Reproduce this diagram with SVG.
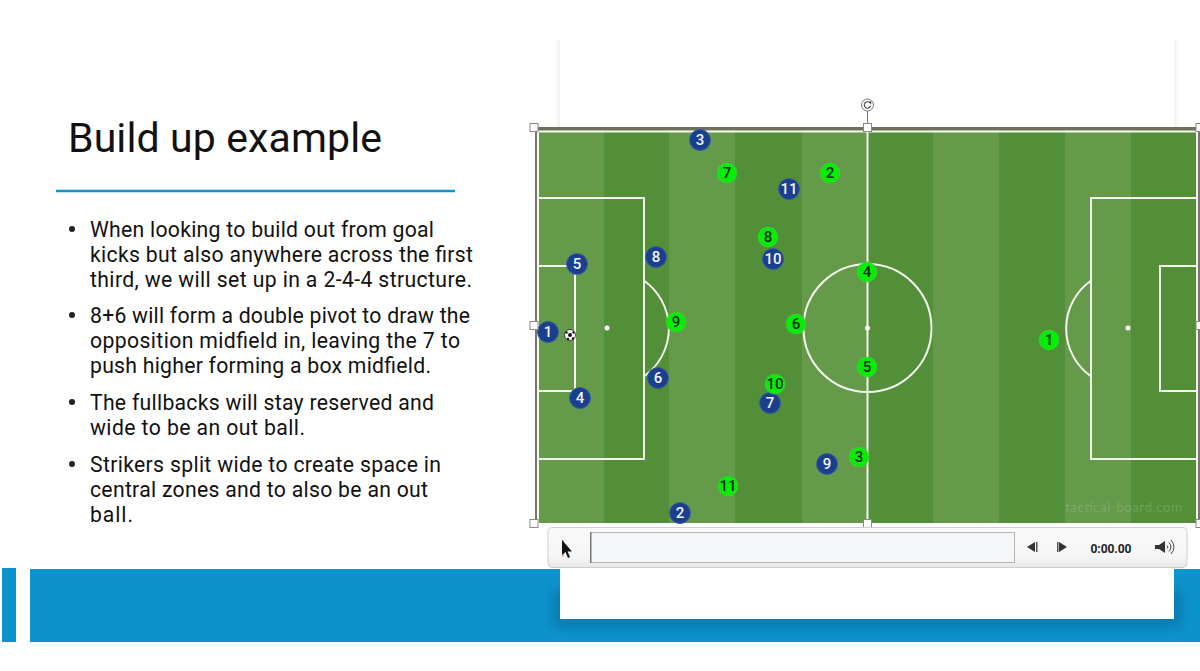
<svg xmlns="http://www.w3.org/2000/svg" width="1200" height="671" viewBox="0 0 1200 671">
<defs>
<style>
.t{font-family:"Roboto","Liberation Sans",sans-serif;fill:#111}
.b{font-size:21.2px}
.l{fill:none;stroke:#f4f8ef;stroke-width:2}
.lt{fill:#659a4a}.dk{fill:#528f38}
.h{fill:#fff;stroke:#8a8a80;stroke-width:1}
.n circle{fill:#1b3f8f;stroke:#3a5c9a;stroke-width:1}
.n text{fill:#f2f5fb}
.g circle{fill:#00f000;stroke:#2ed82a;stroke-opacity:.75;stroke-width:2}
.g text{fill:#07260a}
.p text{font-family:"Roboto","Liberation Sans",sans-serif;font-size:15px;font-weight:500;text-anchor:middle}
.c{fill:#222}
</style>
<filter id="s" x="-5%" y="-100%" width="110%" height="300%"><feGaussianBlur stdDeviation="6"/></filter>
<linearGradient id="bar" x1="0" y1="0" x2="0" y2="1"><stop offset="0" stop-color="#fafafb"/><stop offset="0.7" stop-color="#f6f6f7"/><stop offset="1" stop-color="#e8e8ea"/></linearGradient>
<linearGradient id="sl" x1="1" y1="0" x2="0" y2="0"><stop offset="0" stop-color="#f0f0f0"/><stop offset="1" stop-color="#fff"/></linearGradient>
<linearGradient id="sr" x1="0" y1="0" x2="1" y2="0"><stop offset="0" stop-color="#f0f0f0"/><stop offset="1" stop-color="#fff"/></linearGradient>
</defs>
<rect width="1200" height="671" fill="#fff"/>
<rect x="2" y="568" width="14" height="74" fill="#0d93cc"/>
<rect x="30" y="569" width="1170" height="73" fill="#0d93cc"/>
<rect x="552" y="590" width="630" height="38" fill="#064a6c" opacity="0.3" filter="url(#s)"/>
<rect x="560" y="40" width="614" height="579" fill="#fff"/>
<rect x="555" y="40" width="5" height="88" fill="url(#sl)"/>
<rect x="1174" y="40" width="5" height="88" fill="url(#sr)"/>
<line x1="56" y1="191" x2="455" y2="191" stroke="#0d93cc" stroke-width="2.5"/>
<text class="t" x="68" y="152" font-size="41" textLength="314">Build up example</text>
<g id="bullets">
<g class="t b">
<circle class="c" cx="72" cy="229" r="3"/>
<text x="90" y="237" textLength="344">When looking to build out from goal</text>
<text x="90" y="262" textLength="383">kicks but also anywhere across the first</text>
<text x="90" y="287" textLength="382">third, we will set up in a 2-4-4 structure.</text>
<circle class="c" cx="72" cy="315" r="3"/>
<text x="90" y="323" textLength="380">8+6 will form a double pivot to draw the</text>
<text x="90" y="348" textLength="370">opposition midfield in, leaving the 7 to</text>
<text x="90" y="373" textLength="341">push higher forming a box midfield.</text>
<circle class="c" cx="72" cy="402" r="3"/>
<text x="90" y="410" textLength="344">The fullbacks will stay reserved and</text>
<text x="90" y="435" textLength="215">wide to be an out ball.</text>
<circle class="c" cx="72" cy="464" r="3"/>
<text x="90" y="472" textLength="351">Strikers split wide to create space in</text>
<text x="90" y="497" textLength="338">central zones and to also be an out</text>
<text x="90" y="522" textLength="43">ball.</text>
</g>
</g>
<g id="pitch">
<rect x="534" y="127" width="666" height="3" fill="#6f6f5c"/>
<rect x="535" y="128" width="2.500" height="395" fill="#77776f"/>
<rect x="537" y="130" width="663" height="393" class="lt"/>
<rect x="604" y="130" width="65" height="393" class="dk"/>
<rect x="735" y="130" width="67" height="393" class="dk"/>
<rect x="867" y="130" width="66" height="393" class="dk"/>
<rect x="999" y="130" width="66" height="393" class="dk"/>
<rect x="1131" y="130" width="69" height="393" class="dk"/>
<rect x="1198" y="128" width="2" height="395" fill="#77776f"/>
<g>
<path class="l" d="M538 523V131.500H1197V523"/>
<line class="l" x1="867.500" y1="131" x2="867.500" y2="522"/>
<circle class="l" cx="867.500" cy="328" r="64"/>
<path class="l" d="M538 198H644V459H538M538 266H575V391H538"/>
<path class="l" d="M644.500 281A58.500 58.500 0 0 1 644.500 376"/>
<path class="l" d="M1197 198H1091V459H1197M1197 266H1160V391H1197"/>
<path class="l" d="M1090.500 281A58.500 58.500 0 0 0 1090.500 376"/>
<circle cx="607" cy="328" r="2.500" fill="#fff"/>
<circle cx="867.500" cy="328" r="2.500" fill="#fff"/>
<circle cx="1128" cy="328" r="2.500" fill="#fff"/>
</g>
<text x="1065" y="512" font-family="Lato,'Liberation Sans',sans-serif" font-size="13.500" fill="#fff" fill-opacity="0.17" textLength="117">tactical-board.com</text>
</g>
<g id="ball">
<circle cx="570" cy="335" r="5.500" fill="#fff" stroke="#222" stroke-width="0.800"/>
<circle cx="570" cy="335" r="2" fill="#111"/>
<circle cx="566.500" cy="332.500" r="1.200" fill="#111"/>
<circle cx="573.500" cy="332.500" r="1.200" fill="#111"/>
<circle cx="568" cy="339" r="1.200" fill="#111"/>
<circle cx="573" cy="338.500" r="1.200" fill="#111"/>
</g>
<g id="team-blue" class="p n">
<g id="blue-3"><circle cx="700" cy="140" r="10.500"/><text x="700" y="145">3</text></g>
<g id="blue-11"><circle cx="789" cy="189" r="10.500"/><text x="789" y="194">11</text></g>
<g id="blue-8"><circle cx="656" cy="257" r="10.500"/><text x="656" y="262">8</text></g>
<g id="blue-10"><circle cx="773" cy="259" r="10.500"/><text x="773" y="264">10</text></g>
<g id="blue-5"><circle cx="577" cy="264" r="10.500"/><text x="577" y="269">5</text></g>
<g id="blue-1"><circle cx="548" cy="332" r="10.500"/><text x="548" y="337">1</text></g>
<g id="blue-6"><circle cx="658" cy="378" r="10.500"/><text x="658" y="383">6</text></g>
<g id="blue-4"><circle cx="580" cy="398" r="10.500"/><text x="580" y="403">4</text></g>
<g id="blue-7"><circle cx="770" cy="403" r="10.500"/><text x="770" y="408">7</text></g>
<g id="blue-9"><circle cx="827" cy="464" r="10.500"/><text x="827" y="469">9</text></g>
<g id="blue-2"><circle cx="680" cy="513" r="10.500"/><text x="680" y="518">2</text></g>
</g>
<g id="team-green" class="p g">
<g id="green-7"><circle cx="727" cy="173" r="9.500"/><text x="727" y="178">7</text></g>
<g id="green-2"><circle cx="830" cy="173" r="9.500"/><text x="830" y="178">2</text></g>
<g id="green-8"><circle cx="768" cy="237" r="9.500"/><text x="768" y="242">8</text></g>
<g id="green-4"><circle cx="867" cy="272" r="9.500"/><text x="867" y="277">4</text></g>
<g id="green-9"><circle cx="676" cy="322" r="9.500"/><text x="676" y="327">9</text></g>
<g id="green-6"><circle cx="796" cy="324" r="9.500"/><text x="796" y="329">6</text></g>
<g id="green-5"><circle cx="867" cy="367" r="9.500"/><text x="867" y="372">5</text></g>
<g id="green-10"><circle cx="775" cy="384" r="9.500"/><text x="775" y="389">10</text></g>
<g id="green-3"><circle cx="859" cy="457" r="9.500"/><text x="859" y="462">3</text></g>
<g id="green-11"><circle cx="728" cy="486" r="9.500"/><text x="728" y="491">11</text></g>
<g id="green-1"><circle cx="1049" cy="340" r="9.500"/><text x="1049" y="345">1</text></g>
</g>
<g id="handles">
<line x1="867.500" y1="110" x2="867.500" y2="124" stroke="#777" stroke-width="1"/>
<circle cx="867.500" cy="105" r="6" fill="#fff" stroke="#777" stroke-width="1"/>
<path d="M870 103A3.200 3.200 0 1 0 870.500 106" fill="none" stroke="#444" stroke-width="1.100"/>
<path d="M868.500 101.500L871.500 101.500L871 104.500Z" fill="#444"/>
<rect class="h" x="530" y="123.500" width="8" height="8"/>
<rect class="h" x="863.500" y="123.500" width="8" height="8"/>
<rect class="h" x="1196" y="123.500" width="8" height="8"/>
<rect class="h" x="530" y="321.500" width="8" height="8"/>
<rect class="h" x="1196" y="321.500" width="8" height="8"/>
<rect class="h" x="530" y="519.500" width="8" height="8"/>
<rect class="h" x="863.500" y="519.500" width="8" height="8"/>
<rect class="h" x="1196" y="519.500" width="8" height="8"/>
</g>
<g id="player-bar">
<rect x="548" y="527.500" width="639" height="40" rx="4" fill="url(#bar)" stroke="#cfcfd2"/>
<rect x="590.500" y="532.500" width="424" height="30" fill="#f5f6f8" stroke="#b5b5b8"/>
<rect x="590" y="532" width="1.500" height="31" fill="#777"/>
<path d="M563 540V557" stroke="#d98a3a" stroke-width="1"/>
<path d="M562 540L562 555L565.500 552L568 558L570 557L567.500 551.500L572 551.500Z" fill="#111"/>
<path d="M1035 542V552L1027 547Z" fill="#333"/>
<rect x="1036" y="542" width="1.500" height="10" fill="#555"/>
<path d="M1059 542V552L1067 547Z" fill="#333"/>
<rect x="1057" y="542" width="1.500" height="10" fill="#555"/>
<text x="1111" y="552.500" font-family="Roboto,'Liberation Sans',sans-serif" font-size="12" font-weight="700" fill="#222" text-anchor="middle" textLength="41">0:00.00</text>
<path d="M1155 545H1159L1165 541V553L1159 549H1155Z" fill="#333"/>
<path d="M1167 545.500Q1169 547 1167 548.500M1169 542.500Q1173 547 1169 551.500M1171 540Q1177 547 1171 554" fill="none" stroke="#444" stroke-width="1"/>
</g>
</svg>
